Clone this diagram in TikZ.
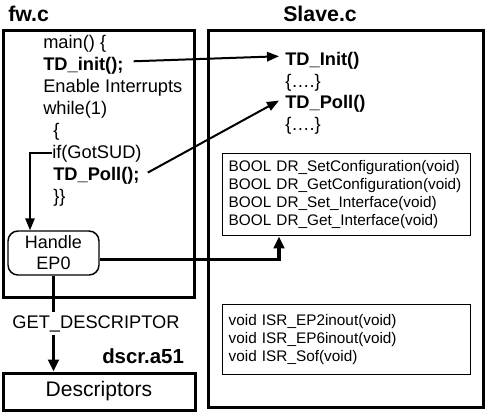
\documentclass[tikz,border=0pt]{standalone}
\usepackage{fontspec}
\setmainfont{Liberation Sans}
\usetikzlibrary{arrows.meta}

\begin{document}
\begin{tikzpicture}[x=0.75pt, y=-0.75pt,
  code/.style={anchor=base west, inner sep=0pt, font=\fontsize{13.7}{16}\selectfont},
  boldcode/.style={code, font=\fontsize{13.7}{16}\selectfont\bfseries},
  title/.style={anchor=base west, inner sep=0pt, font=\fontsize{16}{19}\selectfont\bfseries},
  filebox/.style={draw, line width=2.25pt},
  listbox/.style={draw, line width=1.1pt, anchor=north west, align=left, text width=177pt,
    inner xsep=4.5pt, inner ysep=0pt, font=\fontsize{11.5}{13.4}\selectfont},
  call/.style={line width=1.5pt, -{Triangle[length=9pt, width=7pt]}},
  bigcall/.style={line width=2.4pt, -{Triangle[length=9pt, width=8pt]}}]
  \useasboundingbox (0,0) rectangle (490,415);
  % the two source files
  \node[title] (fwtitle) at (8,21) {fw.c};
  \node[title] (slavetitle) at (283,21) {Slave.c};
  \draw[filebox] (3,30) rectangle (194,297);
  \draw[filebox] (208,30) rectangle (483,407);
  % fw.c
  \node[code] (main) at (43,48) {main() \{};
  \node[boldcode] (callinit) at (43,70) {TD\_init();};
  \node[code] (enable) at (43,92) {Enable Interrupts};
  \node[code] (while) at (43,114) {while(1)};
  \node[code] (open) at (53,136) {\{};
  \node[code] (gotsud) at (52,158) {if(GotSUD)};
  \node[boldcode] (callpoll) at (53,180) {TD\_Poll();};
  \node[code] (close) at (53,202) {\}\}};
  \node[draw, line width=1.1pt, rounded corners=7.5pt, minimum width=68.25pt, minimum height=33pt,
    align=center, inner sep=0pt, font=\fontsize{13.5}{15.75}\selectfont] (handle) at (53.5,253) {Handle\\EP0};
  % Slave.c
  \node[boldcode] (defInit) at (285,65) {TD\_Init()};
  \node[code] (bodyInit) at (285,87) {\{\dots.\}};
  \node[boldcode] (defPoll) at (285,108) {TD\_Poll()};
  \node[code] (bodyPoll) at (285,130) {\{\dots.\}};
  \node[listbox, minimum height=61.5pt] (drbox) at (222,153)
    {BOOL DR\_SetConfiguration(void)\\BOOL DR\_GetConfiguration(void)\\BOOL DR\_Set\_Interface(void)\\BOOL DR\_Get\_Interface(void)};
  \node[listbox, minimum height=52.5pt] (isrbox) at (222,304)
    {void ISR\_EP2inout(void)\\void ISR\_EP6inout(void)\\void ISR\_Sof(void)};
  % descriptor table
  \node[filebox, minimum width=144pt, minimum height=27.75pt, inner sep=0pt,
    font=\fontsize{15.8}{19}\selectfont] (descr) at (99,391.5) {Descriptors};
  \node[anchor=base west, inner sep=0pt, font=\fontsize{15.3}{18}\selectfont\bfseries] (dscr) at (102,363) {dscr.a51};
  % calls
  \draw[call] ([xshift=7.5pt, yshift=3pt]callinit.east) -- ([xshift=-4.5pt, yshift=3pt]defInit.west);
  \draw[call] ([xshift=6pt, yshift=2pt]callpoll.east) -- ([xshift=-4.5pt, yshift=2pt]defPoll.west);
  \coordinate (sudturn) at (30,153);
  \draw[call] (gotsud.west |- sudturn) -- (sudturn) -- (sudturn |- handle.north);
  \coordinate (drturn) at (279,259.5);
  \draw[bigcall] (handle.east |- drturn) -- (drturn) -- (drturn |- drbox.south);
  \draw[bigcall] (handle.south) -- (handle.south |- descr.north);
  \node[fill=white, inner xsep=0pt, inner ysep=2.5pt, font=\fontsize{13.7}{16}\selectfont] (getdescr) at (96,323.5) {GET\_DESCRIPTOR};
\end{tikzpicture}
\end{document}
